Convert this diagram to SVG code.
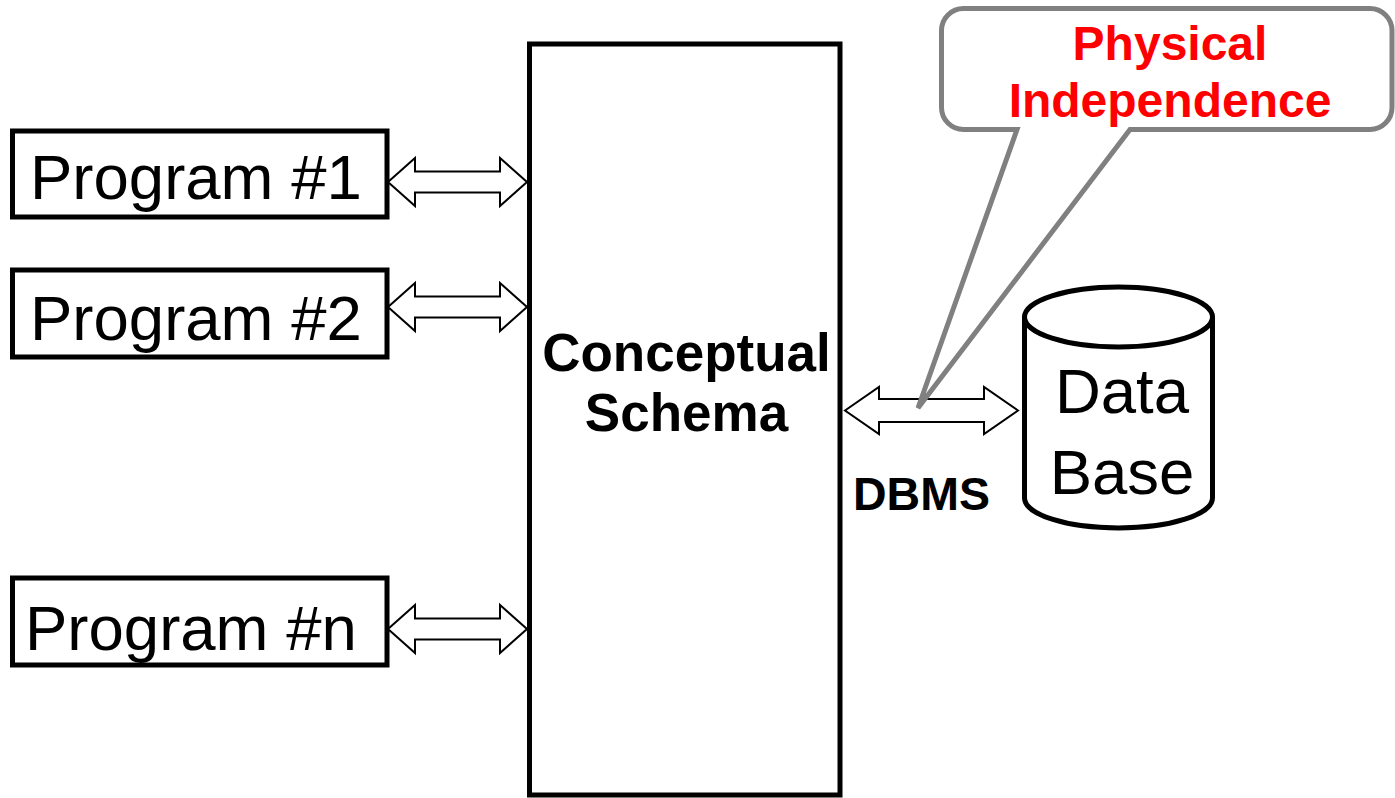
<svg xmlns="http://www.w3.org/2000/svg" width="1395" height="798" viewBox="0 0 1395 798">
<style>
.box{fill:#fff;stroke:#000;stroke-width:5}
.arr{fill:#fff;stroke:#000;stroke-width:2;stroke-linejoin:miter}
.t{font-family:"Liberation Sans",Arial,sans-serif;fill:#000}
.big{font-size:63.5px}
.b{font-weight:bold}
.callout{fill:#fff;stroke:#808080;stroke-width:5;stroke-linejoin:miter}
.red{fill:#ff0000;font-size:48px;font-weight:bold;font-family:"Liberation Sans",Arial,sans-serif}
</style>
<rect width="1395" height="798" fill="#fff"/>
<g id="schema">
<rect class="box" x="529.5" y="44" width="310.5" height="751"/>
<text class="t b" x="686.5" y="371" font-size="53" text-anchor="middle">Conceptual</text>
<text class="t b" x="686.5" y="431" font-size="53" text-anchor="middle">Schema</text>
</g>
<g id="program1">
<rect class="box" x="12.5" y="131" width="374.5" height="86"/>
<text class="t big" x="30" y="199">Program #1</text>
</g>
<g id="program2">
<rect class="box" x="12.5" y="270" width="374.5" height="87"/>
<text class="t big" x="30" y="340">Program #2</text>
</g>
<g id="programn">
<rect class="box" x="12.5" y="578" width="374.5" height="87"/>
<text class="t big" x="25" y="650">Program #n</text>
</g>
<g id="database">
<path class="box" d="M1024.5,317 V498 A94,30 0 0 0 1212.5,498 V317"/>
<ellipse class="box" cx="1118.5" cy="317" rx="94" ry="30"/>
<text class="t big" x="1122" y="413" text-anchor="middle">Data</text>
<text class="t big" x="1122" y="494" text-anchor="middle">Base</text>
</g>
<g id="connectors">
<path class="arr" d="M388,182 L415,158 L415,171.5 L500,171.5 L500,158 L527,182 L500,206 L500,192.5 L415,192.5 L415,206 Z"/>
<path class="arr" d="M388,307 L415,283 L415,296.5 L500,296.5 L500,283 L527,307 L500,331 L500,317.5 L415,317.5 L415,331 Z"/>
<path class="arr" d="M388,629 L415,605 L415,618.5 L500,618.5 L500,605 L527,629 L500,653 L500,639.5 L415,639.5 L415,653 Z"/>
<path class="arr" d="M845,410.5 L879,387 L879,399 L984,399 L984,387 L1018,410.5 L984,434 L984,422 L879,422 L879,434 Z"/>
<text class="t b" x="853" y="510" font-size="46.5">DBMS</text>
</g>
<g id="callout">
<path class="callout" d="M963.5,8.5 H1370 A22,22 0 0 1 1392,30.5 V107.5 A22,22 0 0 1 1370,129.5 H1130 L918,408 L1017,129.5 H963.5 A22,22 0 0 1 941.5,107.5 V30.5 A22,22 0 0 1 963.5,8.5 Z"/>
<text class="red" x="1170" y="60" text-anchor="middle">Physical</text>
<text class="red" x="1170" y="117" text-anchor="middle">Independence</text>
</g>
</svg>
